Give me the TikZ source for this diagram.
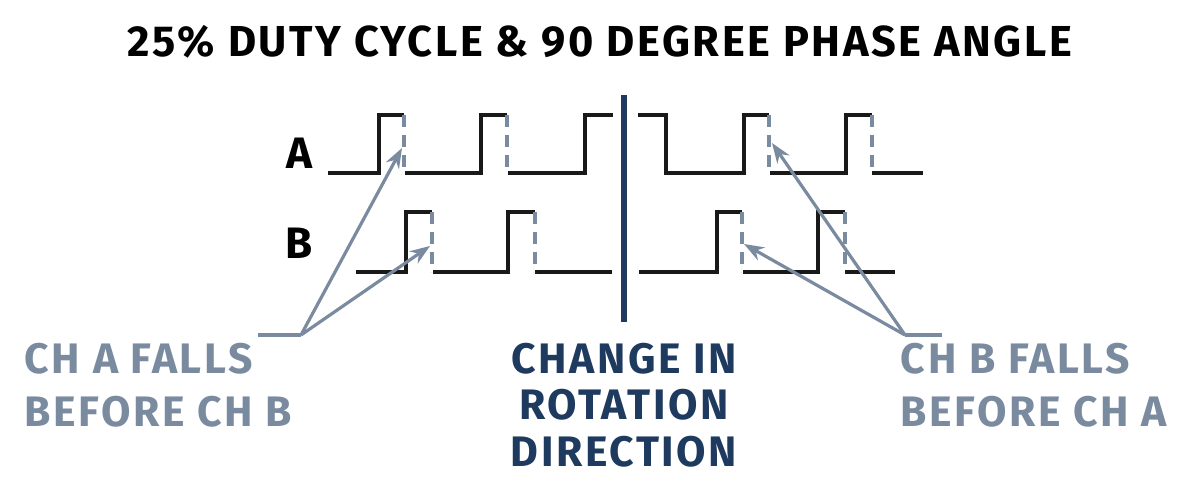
\documentclass[tikz,border=0pt]{standalone}
\usepackage{fontspec}
\setmainfont{Fira Sans}
\definecolor{slate}{RGB}{122,139,160}
\definecolor{navy}{RGB}{31,58,95}
\tikzset{every picture/.style={line width=0.75pt}}
\tikzset{wave/.style={line width=2.4pt,black!90},
  edge/.style={line width=2.4pt,slate,dash pattern=on 9pt off 6pt},
  pointer/.style={line width=2.4pt,slate,-{Stealth[length=15pt,width=11pt]}},
  lbl/.style={font=\bfseries\fontsize{32}{40}\selectfont\addfontfeatures{LetterSpace=6},slate,align=left,anchor=north west}}
\usetikzlibrary{arrows.meta}
\begin{document}
\begin{tikzpicture}[x=0.75pt,y=0.75pt,yscale=-1,xscale=1]
	\useasboundingbox (0,0) rectangle (1200,500);

	% Title
	\node (title) at (600,42) {\bfseries\fontsize{32.5}{36}\selectfont\addfontfeatures{LetterSpace=6}25\% DUTY CYCLE \& 90 DEGREE PHASE ANGLE};
	% Channel letters
	\node (chA) at (299,153) {\bfseries\fontsize{33}{36}\selectfont A};
	\node (chB) at (299,243) {\bfseries\fontsize{33}{36}\selectfont B};

	% Channel A
	\draw [wave] (328,173) -- (379,173) -- (379,115) -- (404,115);
	\draw [wave] (405,173) -- (481,173) -- (481,115) -- (507,115);
	\draw [wave] (508,173) -- (585,173) -- (585,115) -- (613,115);
	\draw [wave] (638,115) -- (666,115) -- (666,173) -- (744,173) -- (744,115) -- (769,115);
	\draw [wave] (770,173) -- (846,173) -- (846,115) -- (872,115);
	\draw [wave] (872,173) -- (923,173);
	% Channel B
	\draw [wave] (356,272) -- (406,272) -- (406,212) -- (432,212);
	\draw [wave] (433,272) -- (508,272) -- (508,212) -- (535,212);
	\draw [wave] (535,272) -- (612,272);
	\draw [wave] (639,272) -- (717,272) -- (717,212) -- (742,212);
	\draw [wave] (743,272) -- (818,272) -- (818,212) -- (845,212);
	\draw [wave] (845,272) -- (895,272);
	% Falling edges
	\foreach \x in {404,507,769,872} \draw [edge] (\x,115) -- (\x,173);
	\foreach \x in {432,535,742,845} \draw [edge] (\x,212) -- (\x,272);

	% Direction change
	\draw [line width=3.8pt,navy] (624,95) -- (624,322);

	% Pointers
	\coordinate (leftroot) at (301,335);
	\coordinate (rightroot) at (905,335);
	\draw [line width=2.4pt,slate] (258,335) -- (leftroot);
	\draw [line width=2.4pt,slate] (rightroot) -- (942,335);
	\draw [pointer] (leftroot) -- (402,148);
	\draw [pointer] (leftroot) -- (430,246);
	\draw [pointer] (rightroot) -- (772,143);
	\draw [pointer] (rightroot) -- (744,244);

	% Text Node
	\node [lbl] (leftnote) at (20,338) {CH A FALLS\\BEFORE CH B};
	\node [lbl] (rightnote) at (896,338) {CH B FALLS\\BEFORE CH A};
	\node [lbl,navy,align=center,anchor=north,font=\bfseries\fontsize{32}{35}\selectfont\addfontfeatures{LetterSpace=6}] (midnote) at (624,338) {CHANGE IN\\ROTATION\\DIRECTION};
\end{tikzpicture}
\end{document}
